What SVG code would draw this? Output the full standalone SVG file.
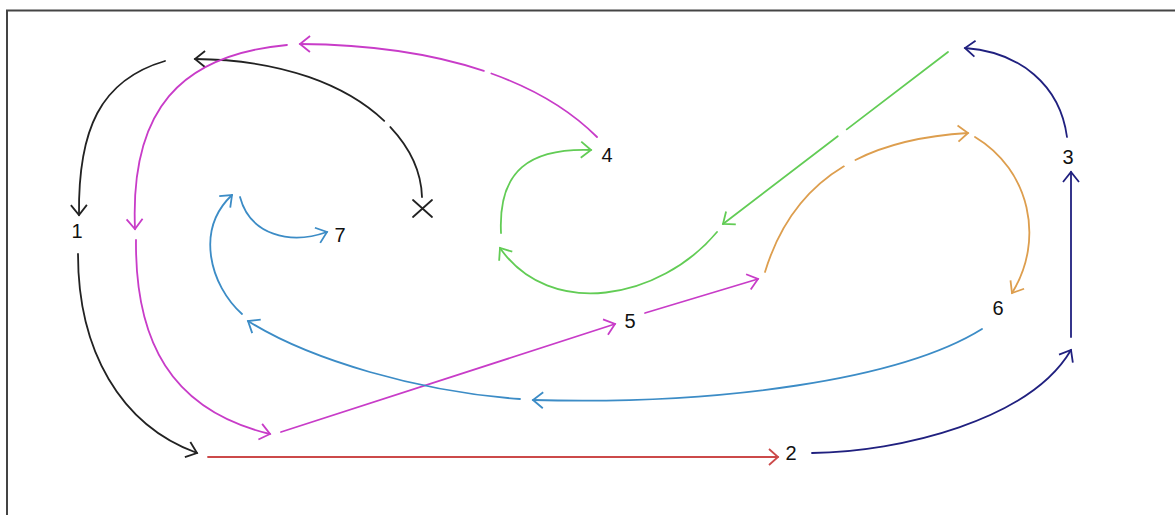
<svg xmlns="http://www.w3.org/2000/svg" width="1175" height="515" viewBox="0 0 1175 515">
<style>
.c{fill:none;stroke-width:1.8;stroke-linecap:round}
.k{stroke:#222}.m{stroke:#c83cc8}.r{stroke:#cc4a4a}.n{stroke:#20207f}.g{stroke:#62cc55}.o{stroke:#dd9e4e}.b{stroke:#3c8cc6}
.lbl{font-family:"Liberation Sans",Arial,sans-serif;font-size:20px;fill:#111;text-anchor:middle}
</style>
<defs>
<marker id="ak" markerUnits="userSpaceOnUse" orient="auto" overflow="visible" refX="0" refY="0" markerWidth="1" markerHeight="1"><path d="M-10,-8 L0,0 L-10,8" fill="none" stroke="#222" stroke-width="1.8"/></marker>
<marker id="am" markerUnits="userSpaceOnUse" orient="auto" overflow="visible" refX="0" refY="0" markerWidth="1" markerHeight="1"><path d="M-10,-8 L0,0 L-10,8" fill="none" stroke="#c83cc8" stroke-width="1.8"/></marker>
<marker id="ar" markerUnits="userSpaceOnUse" orient="auto" overflow="visible" refX="0" refY="0" markerWidth="1" markerHeight="1"><path d="M-9,-8 L0,0 L-9,8" fill="none" stroke="#cc4a4a" stroke-width="1.8"/></marker>
<marker id="an" markerUnits="userSpaceOnUse" orient="auto" overflow="visible" refX="0" refY="0" markerWidth="1" markerHeight="1"><path d="M-10,-8 L0,0 L-10,8" fill="none" stroke="#20207f" stroke-width="1.8"/></marker>
<marker id="ag" markerUnits="userSpaceOnUse" orient="auto" overflow="visible" refX="0" refY="0" markerWidth="1" markerHeight="1"><path d="M-10,-8 L0,0 L-10,8" fill="none" stroke="#62cc55" stroke-width="1.8"/></marker>
<marker id="ao" markerUnits="userSpaceOnUse" orient="auto" overflow="visible" refX="0" refY="0" markerWidth="1" markerHeight="1"><path d="M-10,-8 L0,0 L-10,8" fill="none" stroke="#dd9e4e" stroke-width="1.8"/></marker>
<marker id="ab" markerUnits="userSpaceOnUse" orient="auto" overflow="visible" refX="0" refY="0" markerWidth="1" markerHeight="1"><path d="M-10,-8 L0,0 L-10,8" fill="none" stroke="#3c8cc6" stroke-width="1.8"/></marker>
</defs>
<rect x="0" y="0" width="1175" height="515" fill="#fff"/>
<rect id="frame" x="7" y="10.5" width="1220" height="560" fill="none" stroke="#444" stroke-width="2"/>
<g id="connectors">
<!-- black -->
<path class="c k" d="M165,61 C100,80 78,130 79,215" marker-end="url(#ak)"/>
<path class="c k" d="M78,254 C78,350 120,425 197,453" marker-end="url(#ak)"/>
<path class="c k" d="M422,197 C420,130 340,60 195,59" pathLength="100" stroke-dasharray="27 3 70" marker-end="url(#ak)"/>
<!-- magenta -->
<path class="c m" d="M597,137 C540,80 440,45 300,44" pathLength="100" stroke-dasharray="39 2.5 58.5" marker-end="url(#am)"/>
<path class="c m" d="M287,45 C180,55 130,110 135,229" marker-end="url(#am)"/>
<path class="c m" d="M136,240 C135,340 170,410 270,434" marker-end="url(#am)"/>
<path class="c m" d="M281,432 L615,324" marker-end="url(#am)"/>
<path class="c m" d="M645,313 L758,279" marker-end="url(#am)"/>
<!-- red -->
<path class="c r" d="M208,457 L778,457" marker-end="url(#ar)"/>
<!-- navy -->
<path class="c n" d="M812,453 C900,452 1030,420 1071,350" marker-end="url(#an)"/>
<path class="c n" d="M1071,337 L1071,172" marker-end="url(#an)"/>
<path class="c n" d="M1067,137 C1060,85 1020,52 965,48" marker-end="url(#an)"/>
<!-- green -->
<path class="c g" d="M948,52 L723,224" pathLength="100" stroke-dasharray="45 4 51" marker-end="url(#ag)"/>
<path class="c g" d="M717,232 C660,300 550,320 500,248" marker-end="url(#ag)"/>
<path class="c g" d="M501,233 C498,170 530,148 591,150" marker-end="url(#ag)"/>
<!-- orange -->
<path class="c o" d="M765,272 C790,190 850,140 968,133" pathLength="100" stroke-dasharray="51 5 44" marker-end="url(#ao)"/>
<path class="c o" d="M975,137 C1030,170 1045,240 1012,293" marker-end="url(#ao)"/>
<!-- blue -->
<path class="c b" d="M982,329 C900,380 720,405 533,400" marker-end="url(#ab)"/>
<path class="c b" d="M520,399 C420,392 310,360 248,321" marker-end="url(#ab)"/>
<path class="c b" d="M242,314 C210,285 195,230 232,195" marker-end="url(#ab)"/>
<path class="c b" d="M240,197 C250,235 290,245 327,232" marker-end="url(#ab)"/>
</g>
<g id="node-1"><text class="lbl" x="77" y="238">1</text></g>
<g id="node-2"><text class="lbl" x="791" y="460">2</text></g>
<g id="node-3"><text class="lbl" x="1068" y="164">3</text></g>
<g id="node-4"><text class="lbl" x="607" y="162">4</text></g>
<g id="node-5"><text class="lbl" x="630" y="328">5</text></g>
<g id="node-6"><text class="lbl" x="998" y="315">6</text></g>
<g id="node-7"><text class="lbl" x="340" y="242">7</text></g>
<g id="node-x"><path d="M413,200 L432,217 M432,200 L413,217" stroke="#222" stroke-width="1.8" fill="none" stroke-linecap="round"/></g>
</svg>
